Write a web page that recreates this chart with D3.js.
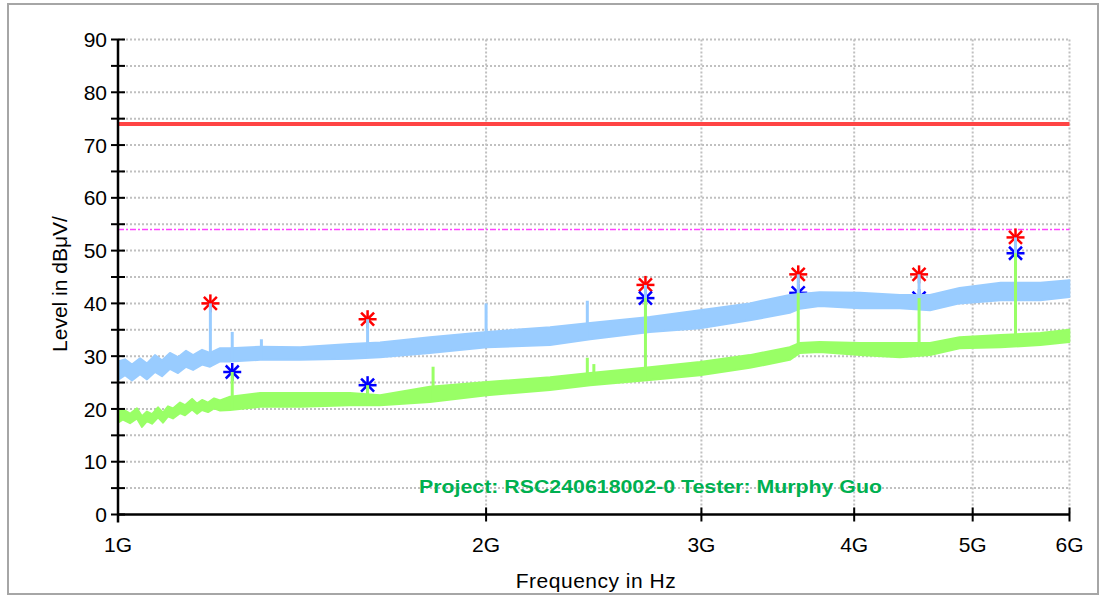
<!DOCTYPE html>
<html>
<head>
<meta charset="utf-8">
<script src="https://cdn.jsdelivr.net/npm/d3@7"></script>
<style>
  body { margin: 0; background: #fff; }
  svg { display: block; font-family: "Liberation Sans", Arial, sans-serif; }
</style>
</head>
<body>
<div id="graf"></div>
<script>
// datos (frecuencia en GHz, nivel en dBuV)
// traza de pico (azul claro): borde inferior y superior de la banda
peakF  = [1.000, 1.0133, 1.0267, 1.0423, 1.0561, 1.0721, 1.0864, 1.1028, 1.1196, 1.1367, 1.1519, 1.1715,
          1.1892, 1.2119, 1.235, 1.307, 1.409, 1.548, 1.638, 1.799, 2.003, 2.256, 2.433,
          2.722, 2.991, 3.286, 3.543, 3.611, 3.748, 4.045, 4.359, 4.614, 4.878, 5.271, 5.680, 5.998]
peakLo = [25.5, 26.4, 25.4, 26.6, 25.6, 27.0, 26.2, 27.6, 26.8, 28.0, 27.4, 28.4,
          28.0, 29.0, 29.0, 29.3, 29.3, 29.5, 29.8, 30.6, 31.7, 32.1, 33.2,
          34.6, 35.3, 36.8, 38.2, 39.0, 39.5, 39.1, 39.1, 38.7, 40.0, 40.6, 40.6, 41.2]
peakHi = [29.0, 29.4, 28.4, 29.6, 28.6, 30.2, 29.2, 30.6, 29.8, 31.0, 30.2, 31.2,
          30.6, 31.5, 31.5, 31.8, 31.7, 32.3, 32.6, 33.6, 34.6, 35.5, 36.3,
          37.4, 38.7, 40.0, 41.6, 41.8, 42.1, 42.0, 41.6, 41.6, 42.9, 43.9, 43.9, 44.4]

// traza promedio (verde)
avgF  = [1.000, 1.0095, 1.0229, 1.0364, 1.0462, 1.0561, 1.0661, 1.0783, 1.0884, 1.0987, 1.1090, 1.1239,
         1.1345, 1.1497, 1.1606, 1.1715, 1.1848, 1.1983, 1.2119, 1.235, 1.307, 1.409, 1.548, 1.638,
         1.799, 2.003, 2.256, 2.433, 2.722, 2.991, 3.286, 3.543, 3.611, 3.748, 4.045, 4.359, 4.614,
         4.878, 5.271, 5.680, 5.998]
avgLo = [17.4, 18.0, 17.3, 18.2, 16.6, 17.7, 17.2, 18.4, 17.4, 18.6, 18.2, 19.2,
         18.8, 19.9, 19.1, 19.8, 19.4, 20.1, 19.7, 19.8, 20.4, 20.4, 20.7, 20.7,
         21.3, 22.6, 23.6, 24.5, 25.5, 26.4, 27.8, 29.3, 30.6, 30.8, 30.2, 29.8, 30.2,
         31.5, 31.7, 32.1, 32.7]
avgHi = [19.8, 19.9, 19.1, 20.1, 18.6, 19.5, 19.0, 20.3, 19.3, 20.5, 20.1, 21.2,
         20.7, 21.9, 21.0, 21.7, 21.2, 22.0, 21.6, 22.3, 23.0, 23.0, 23.0, 22.6,
         24.2, 25.1, 26.0, 26.8, 27.9, 28.9, 30.2, 31.7, 32.5, 32.7, 32.5, 32.5, 32.5,
         33.6, 34.0, 34.4, 35.0]

// picos angostos de cada traza
peakSpikeF = [1.19, 1.24, 1.31, 1.60, 2.00, 2.42, 2.70, 3.60, 4.52, 5.42]
peakSpikeV = [40.0, 34.6, 33.2, 37.0, 40.0, 40.5, 43.5, 45.5, 45.5, 52.5]
avgSpikeF  = [1.24, 1.60, 1.81, 2.42, 2.45, 2.70, 3.60, 4.52, 5.42]
avgSpikeV  = [27.0, 24.5, 28.0, 29.7, 28.5, 41.0, 42.0, 41.0, 49.5]

// marcadores
peakMarkF = [1.19, 1.60, 2.70, 3.60, 4.52, 5.42]
peakMarkV = [40.0, 37.0, 43.5, 45.5, 45.5, 52.5]
avgMarkF  = [1.24, 1.60, 2.70, 3.60, 4.52, 5.42]
avgMarkV  = [27.0, 24.5, 41.0, 42.0, 41.0, 49.5]

limitPeak = 74
limitAvg  = 54
xTicks = [1, 2, 3, 4, 5, 6]
yTicks = d3.range(0, 91, 5)

ancho_total = 1101
alto_total = 596

svg = d3.select('#graf').append('svg')
        .attr('width', ancho_total)
        .attr('height', alto_total)

// marco exterior
svg.append('rect')
   .attr('x', 8).attr('y', 4)
   .attr('width', 1090).attr('height', 590)
   .attr('fill', '#fff')
   .attr('stroke', '#a6a6a6')
   .attr('stroke-width', 2)

x = d3.scaleLog().domain([1, 6]).range([118, 1069.5])
y = d3.scaleLinear().domain([0, 90]).range([514.5, 39.5])

// rejilla punteada
grid = svg.append('g')
grid.selectAll('.gy').data(yTicks.filter(d => d > 0)).enter()
    .append('line')
    .attr('x1', x(1)).attr('x2', x(6))
    .attr('y1', d => y(d)).attr('y2', d => y(d))
    .attr('stroke', '#c0c0c0').attr('stroke-width', 2)
    .attr('stroke-dasharray', '2,2')
grid.selectAll('.gx').data(xTicks.filter(d => d > 1)).enter()
    .append('line')
    .attr('x1', d => x(d)).attr('x2', d => x(d))
    .attr('y1', y(90)).attr('y2', y(0))
    .attr('stroke', '#c0c0c0').attr('stroke-width', 2)
    .attr('stroke-dasharray', '2,2')

// lineas limite
svg.append('line')
   .attr('x1', x(1)).attr('x2', x(6))
   .attr('y1', y(limitPeak)).attr('y2', y(limitPeak))
   .attr('stroke', '#ff4444').attr('stroke-width', 4)
svg.append('line')
   .attr('x1', x(1)).attr('x2', x(6))
   .attr('y1', y(limitAvg)).attr('y2', y(limitAvg))
   .attr('stroke', '#ff44ff').attr('stroke-width', 1.5)
   .attr('stroke-dasharray', '6,2,2,2')

// marcadores tipo asterisco (van debajo de las trazas)
function asterisco(g, fs, vs, color) {
  fs.forEach((f, i) => {
    cx = x(f); cy = y(vs[i])
    s = g.append('g').attr('stroke', color).attr('stroke-width', 2.5)
    s.append('line').attr('x1', cx - 9).attr('x2', cx + 9).attr('y1', cy).attr('y2', cy)
    s.append('line').attr('x1', cx).attr('x2', cx).attr('y1', cy - 9).attr('y2', cy + 9)
    s.append('line').attr('x1', cx - 6.5).attr('x2', cx + 6.5).attr('y1', cy - 6.5).attr('y2', cy + 6.5)
    s.append('line').attr('x1', cx - 6.5).attr('x2', cx + 6.5).attr('y1', cy + 6.5).attr('y2', cy - 6.5)
  })
}
marks = svg.append('g')
asterisco(marks, peakMarkF, peakMarkV, '#ff0000')
asterisco(marks, avgMarkF, avgMarkV, '#0000ff')

// base de los picos a partir del borde inferior de la banda
function base(fs, arr, f) {
  i = d3.bisectRight(fs, f) - 1
  i = Math.max(0, Math.min(fs.length - 2, i))
  t = (Math.log(f) - Math.log(fs[i])) / (Math.log(fs[i + 1]) - Math.log(fs[i]))
  return arr[i] + t * (arr[i + 1] - arr[i])
}

function traza(fs, lo, hi, sf, sv, color) {
  g = svg.append('g')
  area = d3.area()
           .x((d, i) => x(fs[i]))
           .y0((d, i) => y(lo[i]))
           .y1((d, i) => y(hi[i]))
  g.append('path')
   .datum(fs)
   .attr('d', area)
   .attr('fill', color)
   .attr('stroke', color)
   .attr('stroke-width', 2)
   .attr('stroke-linejoin', 'round')
  g.selectAll('.spike').data(sf).enter()
   .append('line')
   .attr('x1', d => x(d)).attr('x2', d => x(d))
   .attr('y1', (d, i) => y(sv[i]))
   .attr('y2', d => y(base(fs, lo, d)))
   .attr('stroke', color).attr('stroke-width', 3)
}
traza(peakF, peakLo, peakHi, peakSpikeF, peakSpikeV, '#99ccff')
traza(avgF, avgLo, avgHi, avgSpikeF, avgSpikeV, '#99ff66')

// ejes
ejes = svg.append('g').attr('stroke', '#000')
ejes.append('line')
    .attr('x1', x(1)).attr('x2', x(1))
    .attr('y1', y(90)).attr('y2', y(0) + 8)
    .attr('stroke-width', 2.5)
ejes.append('line')
    .attr('x1', x(1)).attr('x2', x(6))
    .attr('y1', y(0)).attr('y2', y(0))
    .attr('stroke-width', 2.5)
ejes.selectAll('.ty').data(yTicks).enter()
    .append('line')
    .attr('x1', x(1) - 7).attr('x2', x(1) + 7)
    .attr('y1', d => y(d)).attr('y2', d => y(d))
    .attr('stroke-width', 2)
ejes.selectAll('.tx').data(xTicks.filter(d => d > 1)).enter()
    .append('line')
    .attr('x1', d => x(d)).attr('x2', d => x(d))
    .attr('y1', y(0) - 7).attr('y2', y(0) + 7)
    .attr('stroke-width', 2)

// etiquetas de los ejes
svg.selectAll('.ly').data(yTicks.filter(d => d % 10 == 0)).enter()
   .append('text')
   .attr('x', 107)
   .attr('y', d => y(d))
   .attr('dy', '0.36em')
   .attr('text-anchor', 'end')
   .attr('font-size', '21px')
   .attr('fill', '#000')
   .text(d => d)
svg.selectAll('.lx').data(xTicks).enter()
   .append('text')
   .attr('x', d => x(d))
   .attr('y', 552)
   .attr('text-anchor', 'middle')
   .attr('font-size', '21px')
   .attr('fill', '#000')
   .text(d => d + 'G')

svg.append('text')
   .attr('x', 596).attr('y', 588)
   .attr('text-anchor', 'middle')
   .attr('font-size', '21px')
   .attr('letter-spacing', '0.5px')
   .text('Frequency in Hz')
svg.append('text')
   .attr('transform', 'translate(67, 284) rotate(-90)')
   .attr('text-anchor', 'middle')
   .attr('font-size', '21px')
   .text('Level in dBμV/')

svg.append('text')
   .attr('x', 419).attr('y', 493)
   .attr('font-size', '19px')
   .attr('font-weight', 'bold')
   .attr('fill', '#00b050')
   .attr('textLength', 463)
   .attr('lengthAdjust', 'spacingAndGlyphs')
   .text('Project: RSC240618002-0 Tester: Murphy Guo')
</script>
</body>
</html>
